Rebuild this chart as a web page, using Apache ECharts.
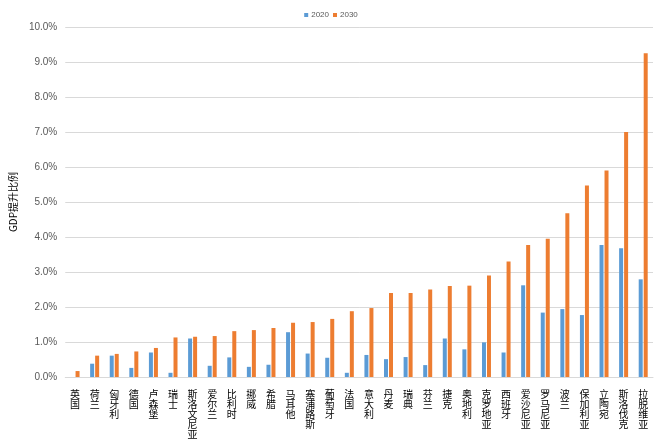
<!DOCTYPE html>
<html>
<head>
<meta charset="utf-8">
<script src="https://cdn.jsdelivr.net/npm/echarts@6/dist/echarts.min.js"></script>
<style>
  html, body { margin: 0; padding: 0; background: #fff; }
  #chart { width: 662px; height: 444px; }
</style>
</head>
<body>
<div id="chart"></div>
<script>
  // 国家
  var countries = ['英国', '荷兰', '匈牙利', '德国', '卢森堡', '瑞士', '斯洛文尼亚', '爱尔兰', '比利时', '挪威',
    '希腊', '马耳他', '塞浦路斯', '葡萄牙', '法国', '意大利', '丹麦', '瑞典', '芬兰', '捷克',
    '奥地利', '克罗地亚', '西班牙', '爱沙尼亚', '罗马尼亚', '波兰', '保加利亚', '立陶宛', '斯洛伐克', '拉脱维亚'];
  // GDP提升比例 (%)
  var values2020 = [0.0, 0.38, 0.61, 0.26, 0.70, 0.12, 1.10, 0.32, 0.56, 0.29,
    0.35, 1.28, 0.67, 0.55, 0.12, 0.63, 0.51, 0.57, 0.34, 1.10,
    0.79, 0.99, 0.70, 2.62, 1.84, 1.94, 1.77, 3.77, 3.68, 2.79];
  var values2030 = [0.17, 0.61, 0.66, 0.73, 0.83, 1.13, 1.15, 1.17, 1.31, 1.34,
    1.40, 1.55, 1.57, 1.66, 1.88, 1.97, 2.40, 2.40, 2.50, 2.60,
    2.61, 2.90, 3.30, 3.77, 3.95, 4.68, 5.47, 5.90, 7.00, 9.25];
  var seriesNames = ['2020', '2030'];

  var chart = echarts.init(document.getElementById('chart'));
  var option = {
    animation: false,
    color: ['#5B9BD5', '#ED7D31'],
    legend: {
      top: 6,
      left: 'center',
      itemWidth: 4,
      itemHeight: 4,
      itemGap: 4,
      icon: 'rect',
      textStyle: { fontSize: 8, color: '#595959', fontFamily: 'Liberation Sans', padding: [0, 0, 0, -2] },
      data: seriesNames
    },
    grid: { left: 60, right: 9, top: 27, bottom: 67 },
    xAxis: {
      type: 'category',
      data: countries,
      axisLine: { lineStyle: { color: '#d9d9d9' } },
      axisTick: { show: false },
      axisLabel: {
        interval: 0,
        margin: 12,
        fontSize: 10,
        lineHeight: 10,
        color: '#000',
        fontFamily: 'Noto Sans CJK SC',
        verticalAlign: 'top',
        formatter: function (v) { return v.split('').join('\n'); }
      }
    },
    yAxis: {
      type: 'value',
      min: 0,
      max: 10,
      interval: 1,
      name: 'GDP提升比例',
      nameLocation: 'middle',
      nameGap: 42,
      nameTextStyle: { fontSize: 10, color: '#000', fontFamily: 'Noto Sans CJK SC' },
      axisLine: { show: false },
      axisTick: { show: false },
      axisLabel: {
        fontSize: 10,
        color: '#595959',
        margin: 8,
        fontFamily: 'Liberation Sans',
        formatter: function (v) { return v.toFixed(1) + '%'; }
      },
      splitLine: { lineStyle: { color: '#d9d9d9', width: 1 } }
    },
    series: [
      {
        name: seriesNames[0],
        type: 'bar',
        data: values2020,
        barWidth: 4,
        barGap: '25%'
      },
      {
        name: seriesNames[1],
        type: 'bar',
        data: values2030,
        barWidth: 4,
        barGap: '25%'
      }
    ]
  };
  chart.setOption(option);
</script>
</body>
</html>
